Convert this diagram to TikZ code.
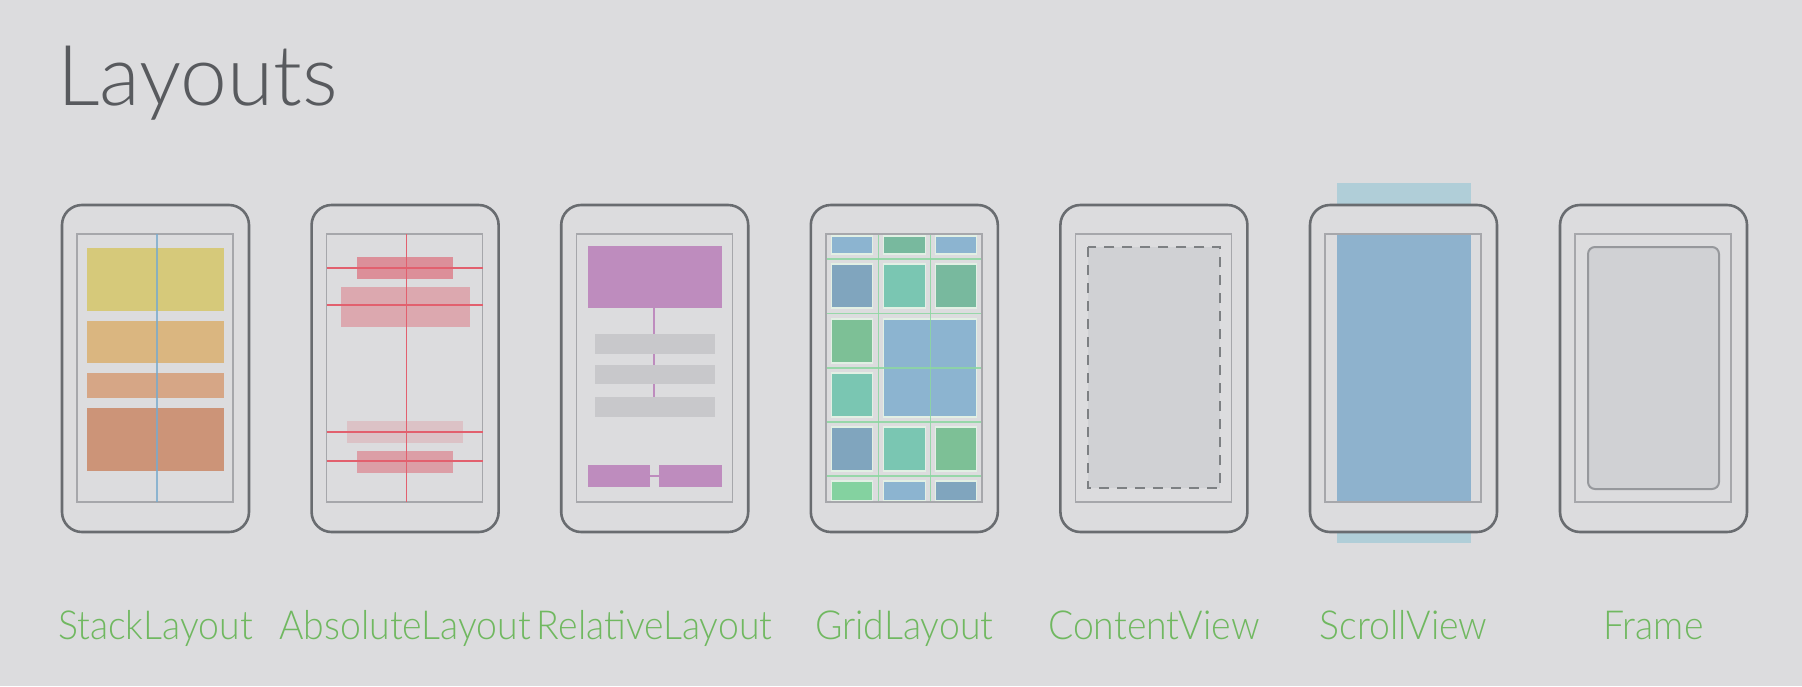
\documentclass[tikz,border=0pt]{standalone}
\usepackage{fontspec}
\setmainfont{Lato}[UprightFont=* Light]
\newfontfamily\capfont{Lato}[UprightFont=* Light, FakeStretch=0.935]
\definecolor{bg}{RGB}{220,220,222}
\definecolor{body}{RGB}{105,108,112}
\definecolor{scr}{RGB}{166,167,171}
\definecolor{titlec}{RGB}{88,90,94}
\definecolor{labelc}{RGB}{112,184,96}
% stack
\definecolor{stA}{RGB}{214,201,122}
\definecolor{stB}{RGB}{218,182,128}
\definecolor{stC}{RGB}{214,166,134}
\definecolor{stD}{RGB}{204,148,120}
\definecolor{stline}{RGB}{120,170,205}
% absolute
\definecolor{absred}{RGB}{226,96,110}
\definecolor{absbox}{RGB}{220,118,130}
% relative
\definecolor{purp}{RGB}{190,140,190}
\definecolor{relgray}{RGB}{200,200,203}
% grid
\definecolor{gBlue}{RGB}{140,180,208}
\definecolor{gBlueGray}{RGB}{128,165,190}
\definecolor{gTeal}{RGB}{122,198,178}
\definecolor{gTealGreen}{RGB}{120,185,158}
\definecolor{gGreen}{RGB}{125,192,150}
\definecolor{gLightGreen}{RGB}{132,210,160}
\definecolor{gLine}{RGB}{140,215,160}
\definecolor{gEdge}{RGB}{226,240,228}
% content, scroll, frame
\definecolor{panel}{RGB}{208,209,212}
\definecolor{dashc}{RGB}{125,128,131}
\definecolor{framec}{RGB}{150,152,156}
\definecolor{scrollout}{RGB}{176,206,216}
\definecolor{scrollin}{RGB}{142,178,205}

\tikzset{
  phonebody/.style={draw=body, line width=2.6pt, fill=bg, rounded corners=20pt},
  screenframe/.style={draw=scr, line width=1.4pt},
  caption/.style={anchor=base, text=labelc, font=\capfont\fontsize{40}{44}\selectfont, inner sep=0pt},
  gridcell/.style={draw=gEdge, line width=1.3pt},
  gridline/.style={draw=gLine, line width=1.2pt, opacity=0.85},
  absline/.style={draw=absred, line width=1.2pt},
}

% phone outline and screen; relative x coordinates, shared y coordinates
\newcommand{\phoneshell}{%
  \draw[phonebody] (0,205) rectangle (187,532);
  \draw[screenframe] (15,234) rectangle (171,502);
}

\begin{document}
\begin{tikzpicture}[x=1pt, y=-1pt]
\useasboundingbox (0,0) rectangle (1802,686);
\fill[bg] (0,0) rectangle (1802,686);

\node[anchor=base west, inner sep=0pt, text=titlec, font=\fontsize{84}{90}\selectfont] (title) at (57,105) {Layouts};

% StackLayout
\begin{scope}[shift={(62,0)}]
  \phoneshell
  \fill[stA] (25,248) rectangle (162,311);
  \fill[stB] (25,321) rectangle (162,363);
  \fill[stC] (25,373) rectangle (162,398);
  \fill[stD] (25,408) rectangle (162,471);
  \draw[stline, line width=1.2pt, opacity=0.8] (95,234) -- (95,502);
  \node[caption] (lblstack) at (93.5,639) {StackLayout};
\end{scope}

% AbsoluteLayout
\begin{scope}[shift={(311.6,0)}]
  \phoneshell
  \fill[absbox, opacity=0.75] (45,257) rectangle (141,279);
  \fill[absbox, opacity=0.5] (29,287) rectangle (158,327);
  \fill[absbox, opacity=0.25] (35,421) rectangle (151,443);
  \fill[absbox, opacity=0.6] (45,451) rectangle (141,473);
  \foreach \yy in {268,305,432,461} \draw[absline] (15,\yy) -- (171,\yy);
  \draw[absline] (95,234) -- (95,502);
  \node[caption] (lblabs) at (93.5,639) {AbsoluteLayout};
\end{scope}

% RelativeLayout
\begin{scope}[shift={(561.2,0)}]
  \phoneshell
  \draw[purp, line width=1.6pt] (93,308) -- (93,397);
  \fill[purp] (27,246) rectangle (161,308);
  \fill[relgray] (34,334) rectangle (154,354);
  \fill[relgray] (34,365) rectangle (154,384);
  \fill[relgray] (34,397) rectangle (154,417);
  \draw[purp, line width=1.6pt] (89,476) -- (98,476);
  \fill[purp] (27,465) rectangle (89,487);
  \fill[purp] (98,465) rectangle (161,487);
  \node[caption] (lblrel) at (93.5,639) {RelativeLayout};
\end{scope}

% GridLayout
\begin{scope}[shift={(810.8,0)}]
  \phoneshell
  % row 0
  \filldraw[gridcell, fill=gBlue] (21,236) rectangle (62,254);
  \filldraw[gridcell, fill=gTealGreen] (73,236) rectangle (115,254);
  \filldraw[gridcell, fill=gBlue] (125,236) rectangle (166,254);
  % row 1
  \filldraw[gridcell, fill=gBlueGray] (21,264) rectangle (62,308);
  \filldraw[gridcell, fill=gTeal] (73,264) rectangle (115,308);
  \filldraw[gridcell, fill=gTealGreen] (125,264) rectangle (166,308);
  % rows 2-3
  \filldraw[gridcell, fill=gGreen] (21,319) rectangle (62,363);
  \filldraw[gridcell, fill=gTeal] (21,373) rectangle (62,417);
  \filldraw[gridcell, fill=gBlue] (73,319) rectangle (166,417);
  % row 4
  \filldraw[gridcell, fill=gBlueGray] (21,427) rectangle (62,471);
  \filldraw[gridcell, fill=gTeal] (73,427) rectangle (115,471);
  \filldraw[gridcell, fill=gGreen] (125,427) rectangle (166,471);
  % row 5
  \filldraw[gridcell, fill=gLightGreen] (21,481) rectangle (62,501);
  \filldraw[gridcell, fill=gBlue] (73,481) rectangle (115,501);
  \filldraw[gridcell, fill=gBlueGray] (125,481) rectangle (166,501);
  % grid lines
  \foreach \xx in {67.5,120} \draw[gridline] (\xx,234) -- (\xx,502);
  \foreach \yy in {259,313.5,368,422,476} \draw[gridline] (15,\yy) -- (171,\yy);
  \draw[screenframe] (15,234) rectangle (171,502);
  \node[caption] (lblgrid) at (93.5,639) {GridLayout};
\end{scope}

% ContentView
\begin{scope}[shift={(1060.4,0)}]
  \phoneshell
  \filldraw[fill=panel, draw=dashc, line width=2pt, dash pattern=on 10pt off 8pt] (28,247) rectangle (160,488);
  \node[caption] (lblcontent) at (93.5,639) {ContentView};
\end{scope}

% ScrollView
\begin{scope}[shift={(1310,0)}]
  \fill[scrollout] (27,183) rectangle (161,543);
  \phoneshell
  \fill[scrollin] (27,234) rectangle (161,502);
  \draw[screenframe] (15,234) rectangle (171,502);
  \node[caption] (lblscroll) at (93.5,639) {ScrollView};
\end{scope}

% Frame
\begin{scope}[shift={(1560,0)}]
  \phoneshell
  \filldraw[fill=panel, draw=framec, line width=2pt, rounded corners=7pt] (28,247) rectangle (159,489);
  \node[caption] (lblframe) at (93.5,639) {Frame};
\end{scope}
\end{tikzpicture}
\end{document}
